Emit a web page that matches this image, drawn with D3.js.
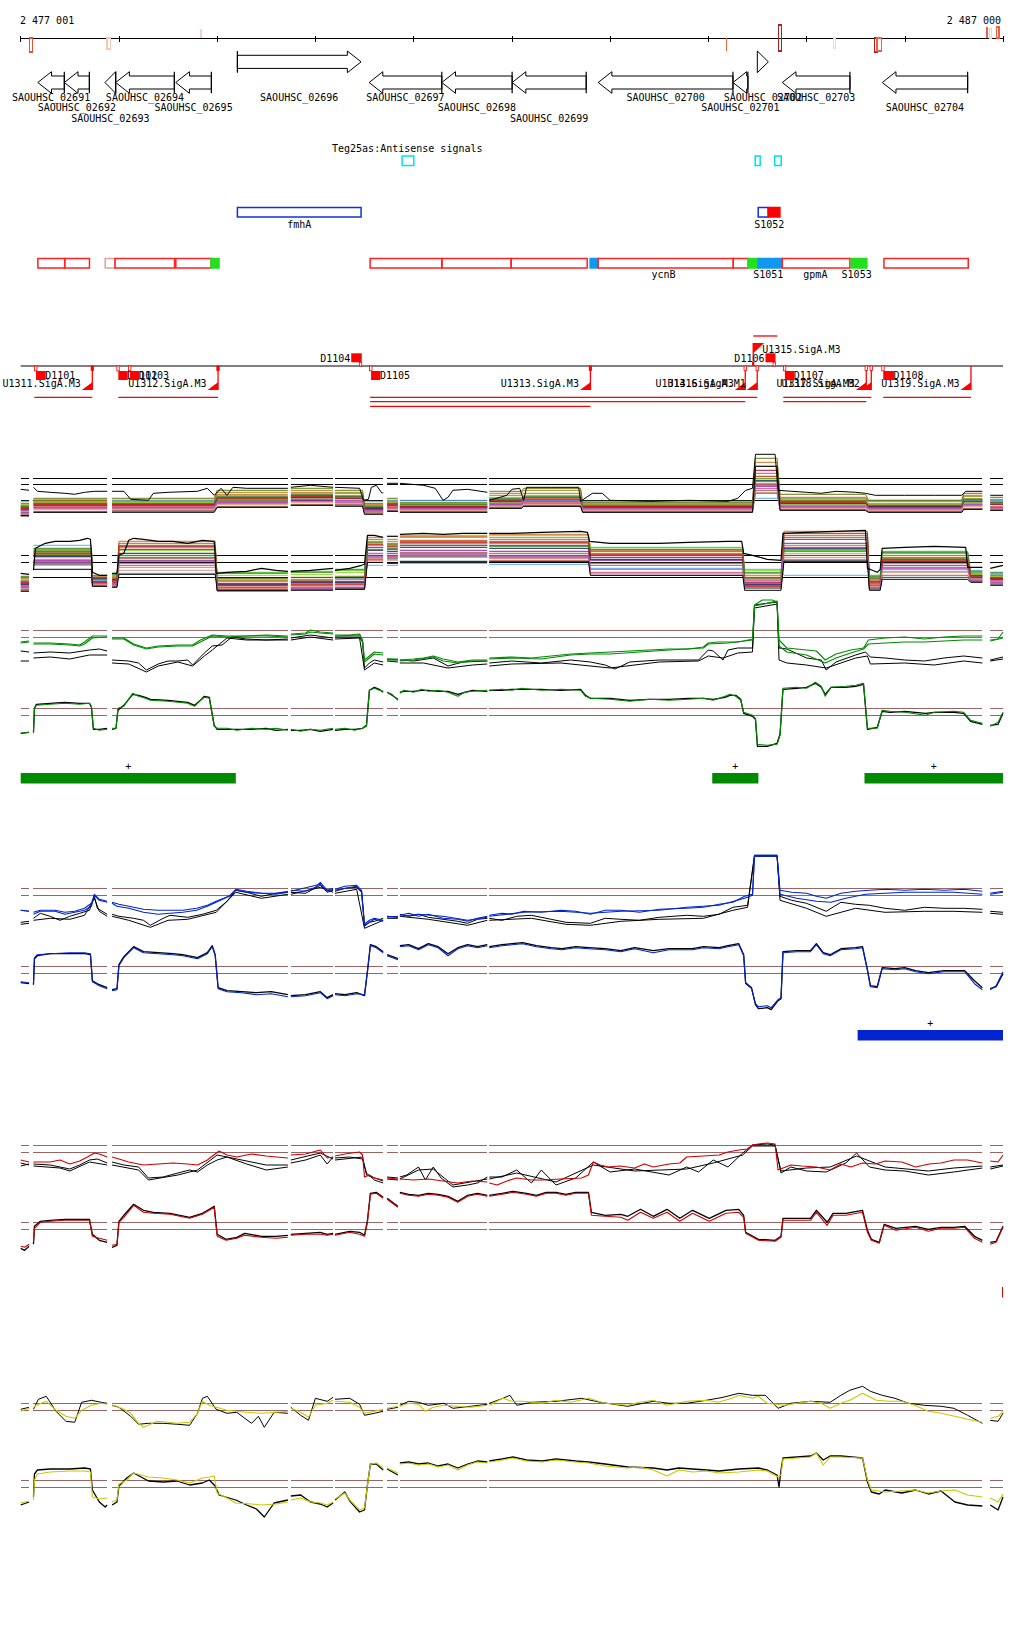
<!DOCTYPE html>
<html><head><meta charset="utf-8">
<script src="https://cdn.jsdelivr.net/npm/d3@7"></script>
<style>
body{margin:0;background:#fff}
text{font-family:"DejaVu Sans Mono","Liberation Mono",monospace;font-size:10px;fill:#000}
</style></head>
<body><svg id="c" width="1024" height="1640"></svg>
<script>
// ================= DATA =================
const startLabel = "2 477 001", endLabel = "2 487 000";
const tickKb = [0,1,2,3,4,5,6,7,8,9,10];
const dataSegments = [[0,0.085],[0.13,0.88],[0.93,2.72],[2.75,3.18],[3.2,3.69],[3.73,3.84],[3.86,4.75],[4.77,9.79],[9.87,10]];

const axisSignals = [
 [0.088,0.122,'down',14,'#e85030',false],[0.879,0.916,'down',11,'#f4c8b8',false],[1.826,1.843,'up',9,'#f8d0c0',true],
 [7.175,7.192,'down',13,'#f06040',true],[7.712,7.745,'both',13,'#b02020',false],[8.272,8.292,'down',10,'#f8d8c8',false],
 [8.693,8.720,'down',14,'#b02020',false],[8.717,8.764,'down',13,'#f06040',false],[9.830,9.851,'up',11,'#f06040',true],
 [9.864,9.881,'up',9,'#f8d0c0',false],[9.932,9.959,'up',11,'#f06040',false]
];

const geneNames = ['SAOUHSC_02691','SAOUHSC_02692','SAOUHSC_02693','SAOUHSC_02694','SAOUHSC_02695','SAOUHSC_02696','SAOUHSC_02697','SAOUHSC_02698','SAOUHSC_02699','SAOUHSC_02700','SAOUHSC_02701','SAOUHSC_02702','SAOUHSC_02703','SAOUHSC_02704'];
const geneStart = [0.174,0.444,0.858,0.967,1.578,2.206,3.547,4.287,5.003,5.879,7.251,7.499,7.753,8.771];
const geneEnd   = [0.444,0.699,0.967,1.564,1.941,3.465,4.287,5.003,5.757,7.251,7.403,7.611,8.442,9.640];
const geneStrand= ['-','-','-','-','-','+','-','-','-','-','-','+','-','-'];
const geneLabelRow = [0,1,2,0,1,0,0,1,2,0,1,0,0,1];

const antisenseTitle = "Teg25as:Antisense signals";
const antisenseBoxes = [[3.883,4.002],[7.477,7.528],[7.676,7.742]];

const rnaBoxes = [
 [2.206,3.465,'#1030e0','none'],[7.508,7.610,'#1030e0','none'],[7.610,7.729,'#ff0000','#ff0000']];
const rnaLabels = [['fmhA',2.835],['S1052',7.62]];

const operonBoxes = [
 [0.175,0.448,'#ff2020','none'],[0.448,0.700,'#ff2020','none'],[0.860,0.960,'#e0a0a0','none'],[0.960,1.566,'#ff2020','none'],
 [1.579,1.938,'#ff2020','none'],[1.938,2.019,'#20e020','#20e020'],[3.557,4.288,'#ff2020','none'],[4.288,4.993,'#ff2020','none'],
 [4.993,5.767,'#ff2020','none'],[5.797,5.878,'#1098f0','#1098f0'],[5.878,7.254,'#ff2020','none'],[7.254,7.406,'#ff2020','none'],
 [7.406,7.508,'#20e020','#20e020'],[7.508,7.749,'#1098f0','#1098f0'],[7.753,8.442,'#ff2020','none'],[8.455,8.614,'#20e020','#20e020'],
 [8.788,9.646,'#ff2020','none']];
const operonLabels = [['ycnB',6.545],['S1051',7.61],['gpmA',8.09],['S1053',8.51]];

const dSites = [
 ['D1101',0.156,0.255,'-'],['D1102',0.994,1.090,'-'],['D1103',1.113,1.208,'-'],['D1104',3.365,3.472,'+'],
 ['D1105',3.567,3.662,'-'],['D1106',7.582,7.684,'+'],['D1107',7.780,7.874,'-'],['D1108',8.781,8.890,'-']];
const transcripts = [
 ['U1311.SigA.M3',0.139,0.729,'-',0,'filled'],['U1312.SigA.M3',0.994,2.009,'-',0,'filled'],
 ['U1313.SigA.M3',3.557,5.800,'-',2,'filled'],['U1314.SigA.M3',3.557,7.376,'-',1,'open'],
 ['U1316.SigA.M1',3.557,7.498,'-',0,'open'],['U1317.SigA.M3',7.763,8.608,'-',1,'open'],
 ['U1318.SigA.M2',7.763,8.659,'-',0,'open'],['U1319.SigA.M3',8.781,9.674,'-',0,'none'],
 ['U1315.SigA.M3',7.457,7.702,'+',0,'filled']];

// ---- multi-condition panel
const multiColors = ['#e0522a','#9c8a1c','#4cc21a','#88d818','#8a2a9a','#c8409a','#a01040','#1a1a5a','#5ab0ee','#a0604a','#f07070','#d0702a','#6a7a10','#e09080','#c02020','#308a30','#b050c0','#707070'];
const multiUpperSegs = [[0,0.085],[0.13,0.88],[0.93,1.97],[2.0,2.72],[2.75,3.18],[3.2,3.48],[3.5,3.69],[3.73,3.84],[3.86,4.75],[4.77,5.1],[5.12,5.7],[5.72,7.45],[7.48,7.7],[7.73,8.6],[8.63,9.58],[9.6,9.79],[9.87,10]];
const multiUpperLevels = [
 [20,24,25,30,32,31,20,24,22,28,30,22,55,26,22,28,25],
 [22,28,28,36,38,36,23,28,24,35,38,24,62,30,25,32,28],
 [18,22,22,28,30,28,18,22,20,26,27,20,45,24,20,26,22],
 [24,26,26,33,35,33,22,26,23,31,33,23,50,28,24,30,27],
 [16,21,21,26,28,27,19,21,21,24,26,21,42,22,21,24,21],
 [15,20,20,25,27,26,17,20,19,23,25,19,40,21,19,23,20],
 [21,25,24,31,33,32,21,25,22,29,31,22,58,27,23,29,26],
 [19,23,23,29,31,30,20,23,21,27,28,21,48,25,22,27,24],
 [27,29,28,29,29,28,27,28,28,28,28,27,30,29,28,28,28],
 [13,17,18,22,24,24,16,18,17,21,23,17,38,19,17,20,19],
 [17,22,22,27,29,27,18,22,20,25,26,20,44,23,20,25,22],
 [23,27,27,34,36,35,24,27,25,33,35,25,66,31,27,33,29],
 [25,30,30,38,40,38,25,30,26,37,40,26,70,34,28,35,31],
 [14,19,19,24,26,25,16,19,18,22,24,18,36,20,18,22,19],
 [20,24,24,30,32,30,19,24,22,28,29,22,52,26,21,27,24],
 [22,25,25,32,34,32,22,25,24,30,32,23,47,27,23,29,26],
 [18,21,21,27,29,28,18,21,20,25,27,20,43,22,20,24,21],
 [12,16,17,21,23,23,15,17,16,20,22,16,35,18,16,19,18]];
const multiUpperBlackLow = [13,16,16,21,23,22,14,17,16,20,22,16,62,18,16,19,18];
const multiUpperBlackTop = [[0,39],[0.085,38],[0.13,41],[0.17,37],[0.3,36],[0.45,35],[0.55,34],[0.65,36],[0.75,37],[0.88,37],[0.93,37],[1.05,37],[1.12,29],[1.3,28],[1.35,35],[1.5,36],[1.8,37],[1.9,40],[1.97,33],[2.04,40],[2.1,33],[2.16,41],[2.3,40],[2.72,40],[2.75,41],[2.95,43],[3.18,41],[3.2,41],[3.45,40],[3.49,28],[3.54,29],[3.57,41],[3.62,43],[3.68,35],[3.69,36],[3.73,45],[3.84,45],[3.86,45],[4.1,43],[4.22,40],[4.3,28],[4.35,31],[4.4,38],[4.55,39],[4.75,36],[4.77,28],[4.95,33],[5.0,39],[5.08,40],[5.12,28],[5.15,41],[5.4,41],[5.68,41],[5.7,27],[5.82,35],[5.92,35],[6.0,28],[6.4,27],[6.8,28],[7.2,27],[7.3,30],[7.38,38],[7.45,40],[7.48,74],[7.68,74],[7.71,38],[7.85,37],[8.0,36],[8.15,35],[8.3,37],[8.5,36],[8.6,35],[8.7,33],[9.0,33],[9.3,33],[9.58,33],[9.62,37],[9.79,37],[9.87,33],[10,33]];
const multiLowerSegs = [[0,0.085],[0.13,0.72],[0.73,0.88],[0.93,0.98],[1.0,1.98],[2.0,2.72],[2.75,3.18],[3.2,3.5],[3.53,3.69],[3.73,3.84],[3.86,4.75],[4.77,5.78],[5.8,7.35],[7.37,7.74],[7.77,8.62],[8.64,8.75],[8.77,9.64],[9.67,9.79],[9.87,10]];
const multiLowerLevels = [
 [22,50,22,24,62,20,22,22,66,62,65,66,50,28,70,22,48,30,28],
 [25,53,26,27,58,25,26,27,60,60,62,62,52,22,60,26,42,28,30],
 [28,55,28,30,50,33,34,35,64,64,68,68,58,32,55,30,54,33,32],
 [26,48,25,26,55,30,31,33,62,58,70,70,56,35,52,28,50,31,29],
 [18,45,23,22,45,18,20,18,50,52,55,54,45,20,62,20,40,26,24],
 [20,44,21,20,40,16,18,17,48,49,52,50,33,25,58,18,38,27,25],
 [23,52,24,25,56,22,24,24,58,56,60,60,48,23,66,24,46,30,27],
 [21,49,27,26,52,21,23,23,55,54,58,57,46,21,57,21,44,29,26],
 [24,60,25,28,32,26,25,27,40,40,42,41,37,36,30,27,34,35,31],
 [15,42,20,19,47,14,16,16,52,50,53,52,40,18,50,16,30,24,22],
 [19,46,22,21,38,17,17,18,45,46,48,47,30,26,46,19,36,25,23],
 [27,56,29,29,64,24,25,26,68,66,69,71,55,30,74,25,52,32,30],
 [24,51,26,24,60,27,28,29,63,61,64,64,54,27,68,27,47,29,28],
 [17,40,21,20,35,19,19,20,47,45,50,45,32,24,48,21,33,26,24],
 [22,54,23,23,59,20,21,21,61,59,63,63,51,19,72,23,45,28,27],
 [29,57,30,31,48,32,33,36,56,57,60,59,56,33,54,29,53,34,33],
 [19,43,22,21,42,15,17,18,49,48,51,49,36,22,56,17,37,25,23],
 [16,41,19,19,44,15,16,17,46,47,49,48,42,17,45,17,28,24,21]];
const multiLowerBlackLow = [14,36,19,18,31,15,15,16,43,42,44,44,30,15,44,15,26,23,20];
const multiLowerBlackTop = [[0,32],[0.085,31],[0.13,35],[0.15,57],[0.25,62],[0.35,64],[0.5,64],[0.6,65],[0.68,67],[0.71,66],[0.73,33],[0.8,30],[0.88,30],[0.93,32],[0.98,32],[1.0,50],[1.05,52],[1.1,65],[1.15,67],[1.25,66],[1.4,64],[1.55,64],[1.7,62],[1.85,65],[1.97,64],[1.99,32],[2.1,33],[2.3,34],[2.45,37],[2.6,35],[2.72,34],[2.75,34],[2.95,35],[3.18,37],[3.2,35],[3.35,37],[3.47,40],[3.5,41],[3.53,70],[3.6,70],[3.69,68],[3.73,69],[3.84,69],[3.86,71],[4.1,72],[4.3,71],[4.5,72],[4.75,72],[4.77,72],[5.0,72],[5.3,73],[5.7,74],[5.77,73],[5.79,64],[6.0,62],[6.5,62],[6.8,63],[7.2,64],[7.34,64],[7.36,52],[7.45,50],[7.6,46],[7.74,45],[7.76,72],[8.0,73],[8.3,74],[8.6,75],[8.62,37],[8.72,33],[8.75,36],[8.77,57],[9.0,58],[9.3,59],[9.62,58],[9.64,38],[9.79,38],[9.87,37],[10,40]];
const multiUpperThresholds = [50,44,28.3], multiLowerThresholds = [50,43,28];
const thresholds = [50,43];

// ---- green condition
const greenUp1 = [[0,38],[0.085,39],[0.13,37],[0.3,37],[0.5,36],[0.6,35],[0.65,38],[0.73,44],[0.88,44],[0.93,42],[1.05,42],[1.15,36],[1.28,32],[1.4,34],[1.6,35],[1.75,35],[1.83,40],[1.95,45],[2.1,44],[2.3,44],[2.5,45],[2.72,44],[2.75,46],[2.9,47],[2.95,50],[3.05,48],[3.18,47],[3.2,45],[3.35,45],[3.45,46],[3.48,40],[3.5,20],[3.55,24],[3.6,28],[3.69,27],[3.73,21],[3.84,21],[3.86,20],[4.0,21],[4.1,22],[4.2,24],[4.3,21],[4.45,18],[4.6,20],[4.75,20],[4.77,22],[5.0,23],[5.2,22],[5.4,24],[5.6,26],[5.8,27],[6.0,28],[6.2,29],[6.4,30],[6.6,31],[6.8,31],[6.95,33],[7.0,37],[7.1,38],[7.2,38],[7.3,38],[7.36,39],[7.45,41],[7.47,75],[7.55,80],[7.65,80],[7.7,78],[7.72,40],[7.8,32],[8.0,30],[8.1,29],[8.19,20],[8.3,26],[8.45,30],[8.58,32],[8.63,40],[8.8,42],[9.0,43],[9.2,41],[9.4,43],[9.6,44],[9.79,44],[9.87,40],[9.95,41],[10,48]];
const greenUp2 = [[0,37],[0.085,38],[0.13,36],[0.3,36],[0.5,35],[0.6,34],[0.65,36],[0.73,42],[0.88,43],[0.93,41],[1.05,41],[1.15,35],[1.28,31],[1.4,33],[1.6,34],[1.75,34],[1.83,38],[1.95,44],[2.1,43],[2.3,44],[2.5,44],[2.72,43],[2.75,45],[2.9,46],[2.95,48],[3.05,47],[3.18,46],[3.2,44],[3.45,45],[3.48,39],[3.5,18],[3.55,22],[3.6,26],[3.69,25],[3.73,20],[3.84,20],[3.86,19],[4.0,20],[4.2,23],[4.3,19],[4.45,17],[4.6,19],[4.75,19],[4.77,21],[5.0,22],[5.3,21],[5.6,25],[5.8,26],[6.0,26],[6.3,28],[6.6,30],[6.95,32],[7.0,36],[7.2,37],[7.45,40],[7.47,74],[7.7,79],[7.72,34],[7.8,28],[8.0,25],[8.19,17],[8.3,22],[8.45,27],[8.58,31],[8.63,36],[8.8,37],[9.0,38],[9.2,38],[9.4,39],[9.6,40],[9.79,40],[9.87,39],[10,42]];
const greenUpK1 = [[0,29],[0.085,28],[0.13,27],[0.3,28],[0.5,27],[0.7,30],[0.8,31],[0.88,29],[0.93,20],[1.1,19],[1.2,17],[1.28,10],[1.4,16],[1.5,19],[1.6,19],[1.7,20],[1.75,15],[1.87,27],[1.95,34],[2.05,35],[2.15,43],[2.3,41],[2.5,40],[2.72,41],[2.75,42],[2.95,45],[3.18,42],[3.2,43],[3.45,43],[3.48,38],[3.5,12],[3.55,17],[3.6,20],[3.69,18],[3.73,21],[3.84,20],[3.86,20],[4.0,19],[4.2,22],[4.35,14],[4.5,18],[4.75,19],[4.77,17],[5.0,19],[5.3,17],[5.6,20],[5.8,18],[5.95,15],[6.05,11],[6.2,18],[6.5,20],[6.9,20],[7.0,30],[7.05,29],[7.15,20],[7.2,30],[7.3,32],[7.45,32],[7.47,75],[7.7,78],[7.72,32],[7.8,31],[8.0,22],[8.15,20],[8.2,10],[8.3,18],[8.5,25],[8.6,28],[8.65,23],[8.8,22],[9.0,20],[9.2,19],[9.4,22],[9.6,24],[9.79,22],[9.87,20],[10,23]];
const greenUpK2 = [[0,19],[0.085,19],[0.13,22],[0.3,23],[0.5,21],[0.7,25],[0.88,25],[0.93,17],[1.1,16],[1.28,8],[1.4,14],[1.6,18],[1.75,14],[1.87,24],[1.95,30],[2.1,42],[2.3,40],[2.72,40],[2.75,40],[2.95,43],[3.18,40],[3.2,41],[3.45,42],[3.5,10],[3.6,17],[3.69,15],[3.73,19],[3.84,18],[3.86,17],[4.1,17],[4.35,12],[4.6,15],[4.75,16],[4.77,14],[5.0,16],[5.5,17],[6.0,12],[6.5,18],[6.9,19],[7.0,24],[7.15,22],[7.3,27],[7.45,28],[7.47,72],[7.7,76],[7.72,20],[7.8,17],[8.0,15],[8.2,12],[8.5,22],[8.62,24],[8.65,16],[9.0,17],[9.3,15],[9.6,19],[9.79,17],[9.87,19],[10,21]];
const greenLow = [[0,25],[0.085,26],[0.13,25],[0.14,50],[0.16,53],[0.3,54],[0.45,55],[0.6,54],[0.7,55],[0.72,52],[0.74,30],[0.8,28],[0.88,29],[0.93,30],[0.97,30],[0.99,50],[1.05,52],[1.14,65],[1.2,62],[1.27,60],[1.32,58],[1.5,57],[1.7,55],[1.77,52],[1.83,58],[1.87,61],[1.92,60],[1.97,32],[2.0,30],[2.1,30],[2.2,28],[2.35,30],[2.5,29],[2.6,30],[2.72,28],[2.75,29],[2.85,27],[2.95,29],[3.05,28],[3.18,30],[3.2,29],[3.3,30],[3.4,28],[3.48,30],[3.52,32],[3.55,68],[3.6,70],[3.65,68],[3.69,67],[3.73,66],[3.78,64],[3.84,58],[3.86,65],[3.9,68],[4.0,66],[4.08,69],[4.15,67],[4.25,68],[4.35,66],[4.45,62],[4.52,66],[4.6,67],[4.75,68],[4.77,68],[4.9,69],[5.0,68],[5.1,70],[5.3,68],[5.5,69],[5.7,68],[5.75,62],[5.8,60],[6.0,59],[6.2,57],[6.4,59],[6.6,58],[6.8,59],[6.95,60],[7.05,58],[7.17,62],[7.22,64],[7.28,62],[7.33,58],[7.36,46],[7.45,43],[7.48,40],[7.5,14],[7.6,13],[7.7,14],[7.73,23],[7.76,70],[7.9,71],[8.0,70],[8.09,76],[8.15,72],[8.19,62],[8.25,71],[8.4,72],[8.5,73],[8.58,75],[8.62,30],[8.72,30],[8.77,48],[8.85,47],[9.0,46],[9.21,43],[9.3,46],[9.5,47],[9.6,46],[9.67,38],[9.79,35],[9.87,32],[9.95,36],[10,46]];
const greenLowK = [[0,25],[0.085,26],[0.13,26],[0.14,50],[0.16,54],[0.3,55],[0.45,56],[0.6,55],[0.7,55],[0.72,51],[0.74,29],[0.8,29],[0.88,30],[0.93,29],[0.97,30],[0.99,48],[1.05,53],[1.14,64],[1.2,63],[1.27,61],[1.32,59],[1.5,58],[1.7,56],[1.77,53],[1.83,58],[1.87,62],[1.92,61],[1.97,33],[2.0,29],[2.1,29],[2.2,29],[2.35,29],[2.5,30],[2.6,28],[2.72,29],[2.75,28],[2.85,28],[2.95,29],[3.05,27],[3.18,29],[3.2,28],[3.3,29],[3.4,29],[3.48,30],[3.52,33],[3.55,68],[3.6,71],[3.65,69],[3.69,66],[3.73,66],[3.78,63],[3.84,59],[3.86,66],[3.9,67],[4.0,67],[4.08,68],[4.15,68],[4.25,67],[4.35,67],[4.45,64],[4.52,66],[4.6,68],[4.75,67],[4.77,68],[4.9,68],[5.0,69],[5.1,69],[5.3,69],[5.5,68],[5.7,69],[5.75,63],[5.8,60],[6.0,60],[6.2,58],[6.4,59],[6.6,59],[6.8,60],[6.95,60],[7.05,59],[7.17,61],[7.22,63],[7.28,63],[7.33,59],[7.36,45],[7.45,42],[7.48,39],[7.5,12],[7.6,12],[7.7,15],[7.73,24],[7.76,69],[7.9,70],[8.0,71],[8.09,75],[8.15,71],[8.19,64],[8.25,71],[8.4,71],[8.5,72],[8.58,74],[8.62,29],[8.72,31],[8.77,47],[8.85,46],[9.0,47],[9.21,45],[9.3,46],[9.5,46],[9.6,45],[9.67,37],[9.79,34],[9.87,33],[9.95,34],[10,45]];
const greenBars = [[0,2.19],[7.04,7.51],[8.59,10]];

// ---- blue condition
const blueUp1 = [[0,28],[0.085,27],[0.13,24],[0.2,27],[0.35,27],[0.45,24],[0.55,26],[0.65,28],[0.72,32],[0.75,43],[0.8,38],[0.88,36],[0.93,35],[0.98,32],[1.1,30],[1.25,26],[1.4,24],[1.52,25],[1.65,26],[1.79,28],[1.9,32],[1.99,36],[2.12,42],[2.19,49],[2.3,47],[2.45,45],[2.6,45],[2.72,47],[2.75,48],[2.9,47],[3.0,51],[3.05,56],[3.12,48],[3.18,50],[3.2,49],[3.3,52],[3.42,53],[3.47,48],[3.5,14],[3.55,18],[3.6,20],[3.69,18],[3.73,21],[3.84,22],[3.86,23],[3.95,25],[4.05,22],[4.15,24],[4.3,20],[4.45,19],[4.55,17],[4.65,20],[4.75,22],[4.77,23],[4.9,25],[5.0,24],[5.12,27],[5.3,26],[5.5,28],[5.65,27],[5.8,24],[5.95,28],[6.11,28],[6.3,26],[6.5,29],[6.78,30],[6.95,31],[7.11,34],[7.25,36],[7.37,42],[7.45,44],[7.47,83],[7.7,83],[7.73,48],[7.85,46],[8.0,45],[8.1,42],[8.2,40],[8.35,45],[8.5,47],[8.64,48],[8.8,49],[9.0,48],[9.2,49],[9.4,48],[9.6,49],[9.79,47],[9.87,45],[10,47]];
const blueUp2 = [[0,28],[0.085,27],[0.13,26],[0.2,28],[0.35,28],[0.45,26],[0.55,27],[0.65,30],[0.72,35],[0.75,44],[0.8,39],[0.88,37],[0.93,36],[1.0,34],[1.1,32],[1.25,29],[1.4,28],[1.52,28],[1.65,28],[1.79,30],[1.9,33],[1.99,37],[2.12,42],[2.19,48],[2.3,46],[2.45,45],[2.6,44],[2.72,46],[2.75,47],[3.05,54],[3.12,47],[3.18,49],[3.2,48],[3.42,52],[3.47,47],[3.5,13],[3.6,19],[3.69,17],[3.73,22],[3.84,21],[3.86,22],[4.05,24],[4.3,22],[4.55,18],[4.75,21],[4.77,22],[5.12,26],[5.5,27],[5.8,25],[6.11,27],[6.5,28],[6.78,31],[7.11,33],[7.37,40],[7.45,43],[7.47,82],[7.7,82],[7.73,44],[7.9,40],[8.1,37],[8.25,36],[8.4,40],[8.6,44],[9.0,46],[9.5,46],[9.79,44],[9.87,44],[10,46]];
const blueUpK1 = [[0,16],[0.085,17],[0.13,20],[0.2,25],[0.3,22],[0.4,18],[0.5,22],[0.6,25],[0.7,28],[0.75,42],[0.78,30],[0.88,24],[0.93,24],[1.0,22],[1.15,20],[1.25,18],[1.32,13],[1.45,20],[1.52,23],[1.7,21],[1.85,24],[1.99,28],[2.1,37],[2.19,48],[2.3,46],[2.45,42],[2.6,45],[2.72,46],[2.75,46],[2.9,45],[3.05,53],[3.12,46],[3.18,48],[3.2,47],[3.3,50],[3.42,51],[3.47,46],[3.5,12],[3.55,16],[3.6,17],[3.69,20],[3.73,22],[3.84,21],[3.86,24],[3.95,22],[4.05,24],[4.15,21],[4.3,19],[4.45,17],[4.55,15],[4.65,19],[4.75,20],[4.77,20],[4.9,18],[5.05,22],[5.2,23],[5.4,19],[5.55,16],[5.8,15],[5.95,20],[6.11,19],[6.3,18],[6.5,21],[6.78,23],[6.95,22],[7.11,24],[7.25,31],[7.4,33],[7.47,83],[7.7,83],[7.73,42],[7.85,38],[8.0,35],[8.2,27],[8.35,36],[8.5,34],[8.64,33],[8.8,30],[9.0,28],[9.2,31],[9.4,30],[9.6,30],[9.79,29],[9.87,27],[10,26]];
const blueUpK2 = [[0,14],[0.085,15],[0.13,18],[0.3,20],[0.5,19],[0.65,23],[0.75,40],[0.8,27],[0.88,22],[0.93,22],[1.1,18],[1.32,11],[1.5,18],[1.7,19],[1.99,26],[2.19,46],[2.45,40],[2.72,44],[2.75,44],[3.05,51],[3.18,46],[3.2,45],[3.42,49],[3.5,10],[3.69,18],[3.73,20],[3.84,20],[3.86,22],[4.15,19],[4.55,13],[4.75,18],[4.77,18],[5.2,20],[5.55,14],[5.8,13],[6.11,17],[6.5,19],[6.95,20],[7.25,28],[7.4,31],[7.47,82],[7.7,82],[7.73,38],[8.0,30],[8.2,22],[8.5,30],[8.8,26],[9.2,27],[9.5,27],[9.79,26],[9.87,25],[10,24]];
const blueLow = [[0,34],[0.085,33],[0.13,32],[0.14,58],[0.17,61],[0.3,62],[0.5,63],[0.65,63],[0.71,62],[0.73,34],[0.8,30],[0.88,27],[0.93,25],[0.98,26],[1.0,50],[1.05,58],[1.15,68],[1.25,63],[1.4,62],[1.55,61],[1.65,60],[1.8,57],[1.9,62],[1.95,69],[1.98,60],[2.01,27],[2.1,24],[2.25,23],[2.4,21],[2.55,22],[2.72,19],[2.75,19],[2.9,20],[3.05,23],[3.12,17],[3.18,20],[3.2,21],[3.3,20],[3.42,22],[3.5,21],[3.53,45],[3.56,70],[3.62,68],[3.69,63],[3.73,60],[3.84,56],[3.86,69],[3.95,70],[4.05,66],[4.15,71],[4.25,68],[4.35,60],[4.45,67],[4.55,70],[4.65,68],[4.75,70],[4.77,68],[4.9,70],[5.0,71],[5.11,72],[5.25,69],[5.4,67],[5.51,66],[5.65,68],[5.78,67],[5.95,66],[6.11,64],[6.25,67],[6.44,63],[6.6,66],[6.84,66],[6.95,68],[7.11,67],[7.2,69],[7.31,71],[7.36,60],[7.38,32],[7.44,27],[7.48,12],[7.51,9],[7.6,10],[7.64,8],[7.71,16],[7.74,18],[7.76,63],[7.9,64],[8.04,64],[8.1,71],[8.17,62],[8.24,60],[8.35,66],[8.5,67],[8.57,68],[8.62,45],[8.65,29],[8.72,28],[8.77,47],[8.9,46],[9.0,47],[9.11,44],[9.24,42],[9.4,44],[9.61,44],[9.71,32],[9.79,26],[9.87,26],[9.93,30],[10,44]];
const blueLowK = [[0,33],[0.085,32],[0.13,31],[0.14,57],[0.17,60],[0.3,62],[0.5,62],[0.65,62],[0.71,61],[0.73,35],[0.8,31],[0.88,28],[0.93,26],[0.98,27],[1.0,51],[1.05,59],[1.15,69],[1.25,64],[1.4,63],[1.55,62],[1.65,61],[1.8,58],[1.9,63],[1.95,70],[1.98,61],[2.01,28],[2.1,25],[2.25,24],[2.4,23],[2.55,24],[2.72,21],[2.75,20],[2.9,21],[3.05,24],[3.12,18],[3.18,21],[3.2,22],[3.3,21],[3.42,23],[3.5,20],[3.53,44],[3.56,71],[3.62,69],[3.69,64],[3.73,61],[3.84,57],[3.86,70],[3.95,71],[4.05,67],[4.15,72],[4.25,69],[4.35,62],[4.45,68],[4.55,71],[4.65,69],[4.75,71],[4.77,69],[4.9,71],[5.0,72],[5.11,73],[5.25,70],[5.4,68],[5.51,67],[5.65,69],[5.78,68],[5.95,67],[6.11,65],[6.25,68],[6.44,65],[6.6,67],[6.84,67],[6.95,69],[7.11,68],[7.2,70],[7.31,72],[7.36,61],[7.38,33],[7.44,28],[7.48,11],[7.51,7],[7.6,8],[7.64,6],[7.71,15],[7.74,17],[7.76,64],[7.9,65],[8.04,65],[8.1,72],[8.17,63],[8.24,61],[8.35,67],[8.5,68],[8.57,69],[8.62,46],[8.65,30],[8.72,29],[8.77,48],[8.9,47],[9.0,48],[9.11,45],[9.24,43],[9.4,45],[9.61,45],[9.71,35],[9.79,28],[9.87,27],[9.93,29],[10,42]];
const blueBars = [[8.52,10]];

// ---- red condition
const redUp = [[0,35],[0.085,33],[0.13,33],[0.3,33],[0.4,35],[0.5,31],[0.6,34],[0.68,38],[0.75,42],[0.8,41],[0.88,38],[0.93,38],[1.0,36],[1.1,33],[1.25,30],[1.4,31],[1.55,32],[1.7,31],[1.8,30],[1.9,35],[2.02,44],[2.1,40],[2.2,38],[2.35,41],[2.5,39],[2.6,38],[2.72,37],[2.75,40],[2.9,41],[3.05,45],[3.12,37],[3.18,38],[3.2,39],[3.3,41],[3.45,43],[3.48,40],[3.5,18],[3.55,20],[3.6,17],[3.69,15],[3.73,17],[3.84,16],[3.86,16],[4.0,15],[4.15,16],[4.3,14],[4.45,12],[4.6,14],[4.75,13],[4.77,12],[4.85,10],[4.95,14],[5.05,17],[5.2,15],[5.31,15],[5.5,16],[5.71,17],[5.78,20],[5.83,33],[5.9,30],[5.98,28],[6.1,29],[6.25,27],[6.35,31],[6.44,28],[6.6,31],[6.71,32],[6.78,38],[6.95,39],[7.11,40],[7.2,43],[7.31,45],[7.4,46],[7.45,50],[7.51,51],[7.6,52],[7.68,51],[7.71,25],[7.84,30],[7.95,29],[8.1,28],[8.24,25],[8.35,31],[8.45,28],[8.57,32],[8.7,31],[8.8,34],[8.97,33],[9.11,28],[9.25,31],[9.37,32],[9.5,35],[9.64,35],[9.79,32],[9.87,34],[9.95,33],[10,40]];
const redUpK1 = [[0,32],[0.085,30],[0.13,31],[0.3,30],[0.4,28],[0.5,26],[0.6,30],[0.7,35],[0.78,36],[0.88,32],[0.93,33],[1.05,30],[1.2,28],[1.3,17],[1.45,18],[1.6,22],[1.72,25],[1.8,23],[1.9,30],[2.0,35],[2.1,38],[2.3,31],[2.5,25],[2.72,28],[2.75,32],[2.9,35],[3.05,40],[3.12,31],[3.18,38],[3.2,37],[3.35,38],[3.48,36],[3.52,22],[3.6,15],[3.69,12],[3.73,18],[3.84,17],[3.86,18],[3.93,20],[4.05,28],[4.12,15],[4.2,28],[4.28,17],[4.4,8],[4.55,10],[4.65,12],[4.75,18],[4.77,18],[4.9,18],[5.05,25],[5.2,12],[5.3,25],[5.45,10],[5.65,17],[5.83,33],[6.0,23],[6.25,26],[6.6,20],[6.78,28],[6.9,23],[7.05,35],[7.2,28],[7.35,42],[7.45,50],[7.6,51],[7.68,50],[7.74,22],[7.84,28],[8.0,24],[8.2,23],[8.4,32],[8.51,42],[8.64,28],[8.8,25],[9.0,24],[9.24,20],[9.5,23],[9.79,27],[9.87,26],[10,29]];
const redUpK2 = [[0,29],[0.085,31],[0.13,29],[0.4,27],[0.5,24],[0.7,33],[0.88,30],[0.93,30],[1.2,25],[1.3,15],[1.6,20],[1.8,25],[2.0,40],[2.2,36],[2.5,30],[2.72,30],[2.75,35],[3.05,42],[3.18,36],[3.2,35],[3.48,38],[3.52,20],[3.69,14],[3.73,16],[3.84,15],[3.86,16],[4.05,25],[4.2,26],[4.4,10],[4.75,16],[4.77,16],[5.05,22],[5.45,13],[5.83,30],[6.25,24],[6.78,26],[7.05,32],[7.35,40],[7.45,49],[7.68,49],[7.74,24],[8.0,27],[8.24,28],[8.51,39],[8.8,28],[9.24,24],[9.5,27],[9.79,29],[9.87,28],[10,30]];
const redLow = [[0,26],[0.04,25],[0.085,28],[0.13,30],[0.14,44],[0.2,50],[0.3,51],[0.45,52],[0.6,52],[0.7,52],[0.73,36],[0.8,34],[0.88,32],[0.93,27],[0.98,28],[1.0,50],[1.05,55],[1.15,67],[1.25,60],[1.35,59],[1.52,58],[1.62,56],[1.72,54],[1.85,58],[1.92,62],[1.97,65],[2.0,36],[2.09,32],[2.2,34],[2.28,37],[2.45,35],[2.6,34],[2.72,35],[2.75,37],[2.9,38],[3.05,38],[3.12,37],[3.18,38],[3.2,37],[3.35,40],[3.45,38],[3.5,36],[3.53,50],[3.56,78],[3.62,79],[3.69,74],[3.73,73],[3.84,65],[3.86,79],[3.95,77],[4.05,76],[4.15,78],[4.25,77],[4.35,75],[4.45,70],[4.55,76],[4.65,78],[4.75,76],[4.77,76],[4.9,78],[5.01,80],[5.15,78],[5.25,76],[5.35,79],[5.45,79],[5.55,77],[5.65,79],[5.78,79],[5.81,57],[5.95,56],[6.11,55],[6.18,52],[6.31,60],[6.44,54],[6.58,60],[6.71,51],[6.84,59],[7.01,51],[7.18,59],[7.31,60],[7.36,55],[7.38,39],[7.51,32],[7.68,31],[7.74,35],[7.76,52],[8.04,52],[8.1,60],[8.21,47],[8.27,57],[8.4,57],[8.57,60],[8.62,40],[8.66,32],[8.74,29],[8.79,47],[8.91,42],[9.11,45],[9.24,41],[9.37,44],[9.5,44],[9.61,45],[9.71,34],[9.79,30],[9.87,28],[9.93,30],[10,45]];
const redLowK = [[0,24],[0.04,22],[0.085,26],[0.13,28],[0.14,46],[0.2,51],[0.3,52],[0.45,53],[0.6,53],[0.7,53],[0.73,38],[0.8,32],[0.88,30],[0.93,25],[0.98,27],[1.0,51],[1.05,57],[1.15,68],[1.25,62],[1.35,60],[1.52,59],[1.62,57],[1.72,55],[1.85,59],[1.92,63],[1.97,66],[2.0,38],[2.09,33],[2.2,35],[2.28,39],[2.45,36],[2.6,36],[2.72,37],[2.75,38],[2.9,39],[3.05,40],[3.12,38],[3.18,39],[3.2,38],[3.35,41],[3.45,40],[3.5,37],[3.53,52],[3.56,79],[3.62,80],[3.69,75],[3.73,74],[3.84,66],[3.86,80],[3.95,78],[4.05,77],[4.15,79],[4.25,78],[4.35,76],[4.45,71],[4.55,77],[4.65,79],[4.75,77],[4.77,77],[4.9,79],[5.01,81],[5.15,79],[5.25,77],[5.35,80],[5.45,80],[5.55,78],[5.65,80],[5.78,80],[5.81,60],[5.95,57],[6.11,58],[6.18,56],[6.31,63],[6.44,56],[6.58,63],[6.71,54],[6.84,62],[7.01,54],[7.18,62],[7.31,63],[7.36,57],[7.38,40],[7.51,33],[7.68,32],[7.74,36],[7.76,54],[8.04,54],[8.1,62],[8.21,50],[8.27,59],[8.4,59],[8.57,62],[8.62,42],[8.66,33],[8.74,30],[8.79,48],[8.91,44],[9.11,46],[9.24,43],[9.37,45],[9.5,45],[9.61,46],[9.71,36],[9.79,32],[9.87,30],[9.93,31],[10,46]];
const redBars = [[9.99,10]];

// ---- yellow condition
const yellowUp = [[0,42],[0.085,45],[0.13,46],[0.16,48],[0.26,52],[0.36,43],[0.46,37],[0.55,35],[0.62,43],[0.72,48],[0.82,50],[0.88,49],[0.93,47],[0.95,48],[1.05,44],[1.12,40],[1.2,30],[1.25,26],[1.39,32],[1.5,31],[1.59,30],[1.72,31],[1.8,40],[1.85,52],[1.92,48],[1.99,46],[2.1,43],[2.19,42],[2.3,41],[2.45,40],[2.6,41],[2.72,42],[2.75,45],[2.85,41],[2.93,36],[3.0,48],[3.12,50],[3.18,53],[3.2,52],[3.35,51],[3.45,46],[3.5,40],[3.6,42],[3.69,44],[3.73,45],[3.84,47],[3.86,47],[3.95,50],[4.05,49],[4.12,42],[4.2,46],[4.31,48],[4.45,47],[4.58,46],[4.75,48],[4.77,48],[4.91,55],[5.0,52],[5.11,52],[5.3,50],[5.45,53],[5.6,51],[5.78,55],[5.95,50],[6.18,48],[6.3,51],[6.44,53],[6.58,48],[6.78,52],[6.98,53],[7.1,51],[7.24,55],[7.31,58],[7.45,55],[7.51,57],[7.6,50],[7.78,48],[7.9,50],[8.04,52],[8.15,50],[8.24,45],[8.35,50],[8.44,53],[8.57,60],[8.71,53],[8.85,52],[8.97,52],[9.1,48],[9.24,42],[9.37,40],[9.51,37],[9.64,34],[9.79,31],[9.87,35],[9.95,37],[10,42]];
const yellowUpK = [[0,44],[0.085,46],[0.13,44],[0.18,54],[0.26,57],[0.36,42],[0.46,32],[0.55,31],[0.62,51],[0.72,53],[0.82,51],[0.88,50],[0.93,48],[1.0,46],[1.12,37],[1.2,29],[1.3,30],[1.45,30],[1.6,29],[1.72,28],[1.8,40],[1.85,55],[1.9,57],[1.99,44],[2.1,40],[2.2,41],[2.35,30],[2.42,37],[2.48,26],[2.58,41],[2.72,40],[2.75,46],[2.85,38],[2.93,33],[3.0,55],[3.12,52],[3.18,56],[3.2,54],[3.35,55],[3.45,49],[3.5,38],[3.6,40],[3.69,42],[3.73,44],[3.84,46],[3.86,48],[3.95,52],[4.05,51],[4.15,48],[4.31,50],[4.4,45],[4.58,47],[4.75,49],[4.77,50],[4.91,55],[4.98,58],[5.05,48],[5.2,51],[5.45,52],[5.71,55],[5.9,51],[6.18,47],[6.44,52],[6.6,50],[6.78,50],[6.98,53],[7.15,56],[7.31,60],[7.45,58],[7.58,58],[7.71,45],[7.84,50],[8.04,52],[8.24,51],[8.35,58],[8.44,63],[8.57,67],[8.65,62],[8.77,58],[8.9,55],[9.04,50],[9.2,48],[9.37,47],[9.5,45],[9.64,38],[9.79,30],[9.87,33],[9.95,32],[10,40]];
const yellowLow = [[0,27],[0.085,29],[0.13,30],[0.14,50],[0.17,56],[0.3,58],[0.5,59],[0.65,59],[0.71,58],[0.73,33],[0.8,31],[0.88,32],[0.93,28],[0.98,30],[1.0,46],[1.08,50],[1.15,57],[1.3,53],[1.45,52],[1.59,50],[1.72,47],[1.85,52],[1.92,53],[1.97,54],[2.0,37],[2.1,32],[2.19,27],[2.35,26],[2.45,25],[2.6,26],[2.72,28],[2.75,30],[2.85,32],[2.95,28],[3.05,27],[3.12,25],[3.18,28],[3.2,31],[3.3,37],[3.35,30],[3.45,20],[3.5,22],[3.53,45],[3.56,66],[3.62,67],[3.69,62],[3.73,62],[3.84,57],[3.86,66],[3.95,67],[4.05,65],[4.15,66],[4.25,63],[4.35,65],[4.45,60],[4.55,65],[4.65,68],[4.75,67],[4.77,68],[4.9,70],[5.01,72],[5.15,69],[5.31,68],[5.45,70],[5.65,68],[5.78,67],[5.95,64],[6.18,62],[6.3,63],[6.44,60],[6.58,54],[6.7,60],[6.84,58],[6.98,59],[7.11,57],[7.31,58],[7.51,60],[7.6,59],[7.71,53],[7.74,55],[7.76,71],[7.9,72],[8.04,73],[8.1,77],[8.17,65],[8.24,73],[8.35,73],[8.57,72],[8.62,50],[8.66,40],[8.8,38],[8.97,39],[9.11,40],[9.24,37],[9.37,39],[9.51,40],[9.64,35],[9.79,33],[9.87,32],[9.95,28],[10,36]];
const yellowLowK = [[0,25],[0.085,28],[0.13,33],[0.14,56],[0.17,60],[0.3,61],[0.5,61],[0.65,62],[0.71,61],[0.73,40],[0.8,28],[0.86,23],[0.88,25],[0.93,25],[0.98,28],[1.0,44],[1.08,52],[1.15,57],[1.3,49],[1.45,48],[1.59,49],[1.72,45],[1.85,47],[1.92,50],[1.98,44],[2.02,35],[2.19,30],[2.3,25],[2.4,21],[2.48,13],[2.58,27],[2.72,30],[2.75,34],[2.85,35],[2.95,28],[3.05,26],[3.12,23],[3.18,27],[3.2,30],[3.3,38],[3.35,29],[3.45,18],[3.5,20],[3.53,45],[3.56,66],[3.62,66],[3.69,60],[3.73,61],[3.84,55],[3.86,67],[3.95,68],[4.05,66],[4.15,67],[4.25,64],[4.35,66],[4.45,62],[4.55,66],[4.65,69],[4.75,68],[4.77,69],[4.9,71],[5.01,73],[5.15,70],[5.31,69],[5.45,71],[5.65,69],[5.78,68],[5.95,66],[6.18,63],[6.44,62],[6.58,60],[6.7,62],[6.84,61],[6.98,60],[7.11,59],[7.31,61],[7.51,62],[7.6,60],[7.7,55],[7.72,43],[7.74,60],[7.76,72],[7.9,73],[8.04,74],[8.1,77],[8.17,70],[8.24,74],[8.35,74],[8.57,72],[8.62,48],[8.66,38],[8.74,36],[8.8,40],[8.97,37],[9.11,40],[9.24,36],[9.37,39],[9.51,28],[9.64,25],[9.79,24],[9.87,25],[9.95,20],[10,33]];

// ================= DRAWING =================
const svg = d3.select('#c');
const x = d3.scaleLinear().domain([0,10]).range([20.7,1003]);
const X = v => Math.round(x(v)*2)/2;

const gAxis = svg.append('g').attr('shape-rendering','crispEdges');
gAxis.append('text').attr('x',20).attr('y',24).text(startLabel);
gAxis.append('text').attr('x',1001).attr('y',24).attr('text-anchor','end').text(endLabel);
gAxis.append('line').attr('x1',x(0)).attr('x2',x(10)).attr('y1',38.5).attr('y2',38.5).attr('stroke','#000');
gAxis.selectAll('line.t').data(tickKb).join('line').attr('x1',d=>X(d)).attr('x2',d=>X(d)).attr('y1',35.5).attr('y2',41.5).attr('stroke','#000');
axisSignals.forEach(([a,b,side,score,col,filled])=>{
  let y1 = 38, y2 = 38;
  if(side==='down'){y2 = 38+score;} else if(side==='up'){y1 = 38-score;} else {y1 = 38-score; y2 = 38+score;}
  gAxis.append('rect').attr('x',x(a)).attr('y',y1).attr('width',Math.max(1.5,x(b)-x(a))).attr('height',y2-y1)
    .attr('fill',filled?col:'none').attr('stroke',col).attr('stroke-width',filled?0:1.2);
});

const gGenes = svg.append('g');
const headLen = 13.7;
geneNames.forEach((n,i)=>{
  const a = x(geneStart[i]), b = x(geneEnd[i]), fwd = geneStrand[i]==='+';
  const top = fwd?51:71.7, bot = fwd?72.7:93.3, mid=(top+bot)/2, bt = top+4.3, bb = bot-4.3;
  const L = b-a, h = Math.min(headLen, L);
  let pts;
  if(fwd){
    pts = h>=L ? [[a,top],[b,mid],[a,bot]] : [[a,bt],[b-h,bt],[b-h,top],[b,mid],[b-h,bot],[b-h,bb],[a,bb]];
  } else {
    pts = h>=L ? [[b,top],[a,mid],[b,bot]] : [[b,bt],[a+h,bt],[a+h,top],[a,mid],[a+h,bot],[a+h,bb],[b,bb]];
  }
  gGenes.append('polygon').attr('points',pts.map(p=>p.join(',')).join(' ')).attr('fill','#fff').attr('stroke','#000').attr('stroke-width',1);
  if(!(h>=L && fwd)){
    const tx = fwd?a:b;
    gGenes.append('line').attr('x1',tx).attr('x2',tx).attr('y1',top).attr('y2',bot).attr('stroke','#000').attr('stroke-width',1.2);
  }
});
const rowBase = [101,110.5,121.7];
geneNames.forEach((n,i)=>{
  gGenes.append('text').attr('x',(x(geneStart[i])+x(geneEnd[i]))/2).attr('y',rowBase[geneLabelRow[i]]).attr('text-anchor','middle').text(n);
});

svg.append('text').attr('x',332).attr('y',152).text(antisenseTitle);
svg.append('g').selectAll('rect').data(antisenseBoxes).join('rect')
  .attr('x',d=>x(d[0])).attr('y',156).attr('width',d=>x(d[1])-x(d[0])).attr('height',9.5)
  .attr('fill','none').attr('stroke','#00e0f0').attr('stroke-width',1.5);

const gR = svg.append('g');
rnaBoxes.forEach(([a,b,s,f])=>gR.append('rect').attr('x',x(a)).attr('y',207.5).attr('width',x(b)-x(a)).attr('height',9.5).attr('fill',f).attr('stroke',s).attr('stroke-width',1.5));
rnaLabels.forEach(([t,p])=>gR.append('text').attr('x',x(p)).attr('y',228).attr('text-anchor','middle').text(t));
operonBoxes.forEach(([a,b,s,f])=>gR.append('rect').attr('x',x(a)).attr('y',258.5).attr('width',x(b)-x(a)).attr('height',9.5).attr('fill',f).attr('stroke',s).attr('stroke-width',1.5));
operonLabels.forEach(([t,p])=>gR.append('text').attr('x',x(p)).attr('y',278.3).attr('text-anchor','middle').text(t));

const gT = svg.append('g');
const red = '#ff0000';
gT.append('line').attr('x1',x(0)).attr('x2',x(10)).attr('y1',366).attr('y2',366).attr('stroke','#000').attr('stroke-width',1.2);
const laneY = [397.3,401.7,406.3];
transcripts.forEach(([name,a,b,strand,lane,marker])=>{
  const xa = x(a), xb = x(b);
  if(strand==='-'){
    gT.append('line').attr('x1',xa).attr('x2',xb).attr('y1',laneY[lane]).attr('y2',laneY[lane]).attr('stroke',red).attr('stroke-width',1.3);
    gT.append('line').attr('x1',xb).attr('x2',xb).attr('y1',366).attr('y2',390).attr('stroke',red).attr('stroke-width',1.3);
    gT.append('polygon').attr('points',`${xb},382.3 ${xb},390 ${xb-10.5},390`).attr('fill',red);
    if(marker!=='none') gT.append('rect').attr('x',xb-1.2).attr('y',366).attr('width',2.4).attr('height',4.5)
      .attr('fill',marker==='filled'?red:'#fff').attr('stroke',red).attr('stroke-width',0.8);
    gT.append('text').attr('x',xb-11.5).attr('y',386.7).attr('text-anchor','end').text(name);
  } else {
    gT.append('line').attr('x1',xa).attr('x2',xb).attr('y1',336).attr('y2',336).attr('stroke',red).attr('stroke-width',1.3);
    gT.append('line').attr('x1',xa).attr('x2',xa).attr('y1',343).attr('y2',366).attr('stroke',red).attr('stroke-width',1.3);
    gT.append('polygon').attr('points',`${xa},343 ${xa+11},343 ${xa},353.3`).attr('fill',red);
    gT.append('rect').attr('x',xa-1.2).attr('y',362).attr('width',2.4).attr('height',4).attr('fill',red);
    gT.append('text').attr('x',xa+9).attr('y',353.3).text(name);
  }
});
dSites.forEach(([name,a,b,strand])=>{
  const xa = x(a), xb = x(b);
  if(strand==='-'){
    gT.append('rect').attr('x',xa-1.5).attr('y',366).attr('width',2.4).attr('height',4.8).attr('fill','#fff').attr('stroke',red).attr('stroke-width',0.8);
    gT.append('rect').attr('x',xa).attr('y',371).attr('width',xb-xa).attr('height',9).attr('fill',red);
    gT.append('text').attr('x',xb-0.5).attr('y',379.3).text(name);
  } else {
    gT.append('rect').attr('x',xa).attr('y',353.3).attr('width',xb-xa).attr('height',9).attr('fill',red);
    gT.append('rect').attr('x',xb-2.4).attr('y',362.3).attr('width',2.4).attr('height',3.7).attr('fill','#fff').attr('stroke',red).attr('stroke-width',0.8);
    gT.append('text').attr('x',xa-1).attr('y',361.7).attr('text-anchor','end').text(name);
  }
});

function yScale(y0){ return d3.scaleLinear().domain([0,100]).range([y0, y0-100]); }
const line = (ys)=>d3.line().x(d=>x(d[0])).y(d=>ys(d[1]));
function drawSeries(g, pts, ys, color, w){
  dataSegments.forEach(([a,b])=>{
    const seg = pts.filter(p=>p[0]>=a-1e-6 && p[0]<=b+1e-6);
    if(seg.length>1) g.append('path').attr('d',line(ys)(seg)).attr('fill','none').attr('stroke',color).attr('stroke-width',w||1).attr('stroke-linejoin','round');
  });
}
function drawThresholds(g, ys, vals, color){
  vals.forEach(v=>dataSegments.forEach(([a,b])=>{
    g.append('line').attr('x1',x(a)).attr('x2',x(b)).attr('y1',Math.round(ys(v))+0.5).attr('y2',Math.round(ys(v))+0.5)
      .attr('stroke',color).attr('stroke-width',1.2).attr('shape-rendering','crispEdges');
  }));
}
function levelPts(segs, levels){ const p=[]; segs.forEach((s,i)=>{p.push([s[0],levels[i]],[s[1],levels[i]]);}); return p; }

const gA = svg.append('g');
const yAu = yScale(528.3), yAl = yScale(605.3);
drawThresholds(gA, yAu, multiUpperThresholds, '#000');
drawThresholds(gA, yAl, multiLowerThresholds, '#000');
multiUpperLevels.forEach((lv,i)=>drawSeries(gA, levelPts(multiUpperSegs, lv), yAu, multiColors[i], 1));
multiLowerLevels.forEach((lv,i)=>drawSeries(gA, levelPts(multiLowerSegs, lv), yAl, multiColors[i], 1));
drawSeries(gA, levelPts(multiUpperSegs, multiUpperBlackLow), yAu, '#000', 1);
drawSeries(gA, levelPts(multiLowerSegs, multiLowerBlackLow), yAl, '#000', 1);
drawSeries(gA, multiUpperBlackTop, yAu, '#000', 1);
drawSeries(gA, multiLowerBlackTop, yAl, '#000', 1.2);

const brown = '#9a6464';
function panel(y0u, y0l, col, upCol, upBlack, lowCol, lowBlack){
  const g = svg.append('g');
  const yu = yScale(y0u), yl = yScale(y0l);
  drawThresholds(g, yu, thresholds, brown);
  drawThresholds(g, yl, thresholds, brown);
  upBlack.forEach(s=>drawSeries(g, s, yu, '#000', 1));
  upCol.forEach(s=>drawSeries(g, s, yu, col, 1.1));
  lowBlack.forEach(s=>drawSeries(g, s, yl, '#000', 1.3));
  lowCol.forEach(s=>drawSeries(g, s, yl, col, 1.1));
  return g;
}
panel(680, 758.3, '#008a00', [greenUp1, greenUp2], [greenUpK1, greenUpK2], [greenLow], [greenLowK]);
panel(938.3, 1015.7, '#0024d0', [blueUp1, blueUp2], [blueUpK1, blueUpK2], [blueLow], [blueLowK]);
panel(1195, 1272.3, '#cc0000', [redUp], [redUpK1, redUpK2], [redLow], [redLowK]);
panel(1453.3, 1530, '#c8c800', [yellowUp], [yellowUpK], [yellowLow], [yellowLowK]);

function bars(data, y, col){
  const g = svg.append('g');
  data.forEach(([a,b])=>{
    g.append('rect').attr('x',x(a)).attr('y',y).attr('width',x(b)-x(a)).attr('height',10.5).attr('fill',col);
    if(x(b)-x(a)>20) g.append('text').attr('x',(x(a)+x(b))/2).attr('y',y-3.5).attr('text-anchor','middle').text('+');
  });
}
bars(greenBars, 773, '#008a00');
bars(blueBars, 1030, '#0024d0');
bars(redBars, 1287, '#cc0000');
</script></body></html>
